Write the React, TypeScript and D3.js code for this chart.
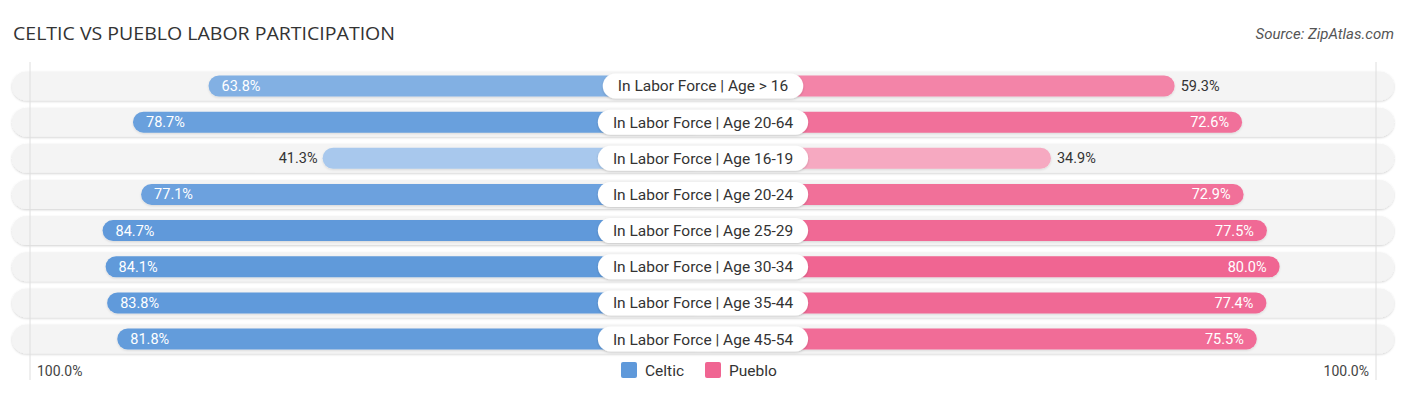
import { useEffect, useRef } from 'react'
import * as d3 from 'd3'

const categories = [
  'In Labor Force | Age > 16',
  'In Labor Force | Age 20-64',
  'In Labor Force | Age 16-19',
  'In Labor Force | Age 20-24',
  'In Labor Force | Age 25-29',
  'In Labor Force | Age 30-34',
  'In Labor Force | Age 35-44',
  'In Labor Force | Age 45-54',
]
const celtic = [63.8, 78.7, 41.3, 77.1, 84.7, 84.1, 83.8, 81.8]
const pueblo = [59.3, 72.6, 34.9, 72.9, 77.5, 80.0, 77.4, 75.5]
const seriesNames = ['Celtic', 'Pueblo']

const W = 1406
const H = 395
const CX = 703
const GAP = 171
const FONT = 'Roboto, "Open Sans", sans-serif'
const blueScale = d3.scaleLinear<string>().domain([40, 85]).range(['#aac9ee', '#5f99da'])
const pinkScale = d3.scaleLinear<string>().domain([35, 80]).range(['#f6a9c1', '#f06592'])

export default function App() {
  const ref = useRef<SVGSVGElement>(null)

  useEffect(() => {
    if (!ref.current) return
    d3.select(ref.current).selectAll('*').remove()
    render(ref.current)
  }, [])

  return (
    <div style={{ position: 'absolute', left: 0, top: 0 }}>
      <svg ref={ref} width={W} height={H} style={{ display: 'block' }} />
    </div>
  )
}

function render(el: SVGSVGElement) {
  const svg = d3.select(el).style('font-family', FONT)

  const defs = svg.append('defs')
  const f = defs.append('filter').attr('id', 'sh').attr('x', '-5%').attr('y', '-30%').attr('width', '110%').attr('height', '160%')
  f.append('feDropShadow').attr('dx', 0).attr('dy', 1).attr('stdDeviation', 1).attr('flood-color', '#000').attr('flood-opacity', 0.18)
  const fb = defs.append('filter').attr('id', 'bsh').attr('x', '-5%').attr('y', '-30%').attr('width', '110%').attr('height', '160%')
  fb.append('feDropShadow').attr('dx', 0).attr('dy', 1).attr('stdDeviation', 0.8).attr('flood-color', '#000').attr('flood-opacity', 0.12)

  const y = d3.scaleBand().domain(categories).range([67.9, 357.1]).padding(0)
  const xl = d3.scaleLinear().domain([0, 100]).range([CX - GAP, CX - GAP - 507])
  const xr = d3.scaleLinear().domain([0, 100]).range([CX + GAP, CX + GAP + 507])

  // title
  svg.append('text')
    .attr('x', 13).attr('y', 40)
    .attr('font-size', 18.5).attr('fill', '#333')
    .attr('font-family', '"Open Sans", sans-serif')
    .attr('textLength', 382).attr('lengthAdjust', 'spacingAndGlyphs')
    .text('CELTIC VS PUEBLO LABOR PARTICIPATION')
  svg.append('text')
    .attr('x', 1394).attr('y', 39)
    .attr('text-anchor', 'end').attr('font-style', 'italic')
    .attr('font-size', 15).attr('fill', '#555')
    .text('Source: ZipAtlas.com')

  const bh = 29
  const barH = 21
  // background pills
  categories.forEach((cat) => {
    const cy = y(cat)! + y.bandwidth() / 2
    svg.append('rect')
      .attr('x', 12).attr('y', cy - bh / 2)
      .attr('width', W - 24).attr('height', bh)
      .attr('rx', bh / 2)
      .attr('fill', '#f4f4f4')
      .attr('filter', 'url(#sh)')
  })

  // guide lines
  ;[xl(100) + 5, xr(100) - 5].forEach((gx) => {
    svg.append('line')
      .attr('x1', gx).attr('x2', gx).attr('y1', 62).attr('y2', 380)
      .attr('stroke', '#dedede').attr('stroke-width', 1)
  })

  categories.forEach((cat, i) => {
    const cy = y(cat)! + y.bandwidth() / 2
    const g = svg.append('g')

    // Celtic
    const cv = celtic[i]
    const cx0 = xl(cv)
    g.append('rect')
      .attr('x', cx0).attr('y', cy - barH / 2)
      .attr('width', CX - cx0).attr('height', barH)
      .attr('rx', barH / 2)
      .attr('fill', blueScale(cv))
      .attr('filter', 'url(#bsh)')
    const cin = cv > 60
    g.append('text')
      .attr('x', cin ? cx0 + 13 : cx0 - 5)
      .attr('y', cy + 5)
      .attr('text-anchor', cin ? 'start' : 'end')
      .attr('font-size', 14.5)
      .attr('fill', cin ? '#fff' : '#333')
      .text(`${cv.toFixed(1)}%`)

    // Pueblo
    const pv = pueblo[i]
    const px1 = xr(pv)
    g.append('rect')
      .attr('x', CX).attr('y', cy - barH / 2)
      .attr('width', px1 - CX).attr('height', barH)
      .attr('rx', barH / 2)
      .attr('fill', pinkScale(pv))
      .attr('filter', 'url(#bsh)')
    const pin = pv > 60
    g.append('text')
      .attr('x', pin ? px1 - 13 : px1 + 6)
      .attr('y', cy + 5)
      .attr('text-anchor', pin ? 'end' : 'start')
      .attr('font-size', 14.5)
      .attr('fill', pin ? '#fff' : '#333')
      .text(`${pv.toFixed(1)}%`)

    // center label
    const lbl = g.append('text')
      .attr('x', CX).attr('y', cy + 5.5)
      .attr('text-anchor', 'middle')
      .attr('font-size', 15.5)
      .attr('fill', '#333')
      .text(cat)
    const tw = (lbl.node() as SVGTextElement).getComputedTextLength()
    const pw = tw + 30
    g.append('rect')
      .attr('x', CX - pw / 2).attr('y', cy - 12.5)
      .attr('width', pw).attr('height', 25)
      .attr('rx', 12.5)
      .attr('fill', '#fff')
      .attr('filter', 'url(#sh)')
    lbl.raise()
  })

  // axis end labels
  svg.append('text')
    .attr('x', 37).attr('y', 376)
    .attr('font-size', 14).attr('fill', '#444')
    .text('100.0%')
  svg.append('text')
    .attr('x', 1369).attr('y', 376)
    .attr('text-anchor', 'end')
    .attr('font-size', 14).attr('fill', '#444')
    .text('100.0%')

  // legend
  const legend = [
    { label: seriesNames[0], color: '#5f99da', x: 621 },
    { label: seriesNames[1], color: '#f06592', x: 705 },
  ]
  legend.forEach(({ label, color, x }) => {
    svg.append('rect')
      .attr('x', x).attr('y', 362)
      .attr('width', 16).attr('height', 16)
      .attr('rx', 2)
      .attr('fill', color)
    svg.append('text')
      .attr('x', x + 24).attr('y', 376)
      .attr('font-size', 15.5).attr('fill', '#333')
      .text(label)
  })
}
